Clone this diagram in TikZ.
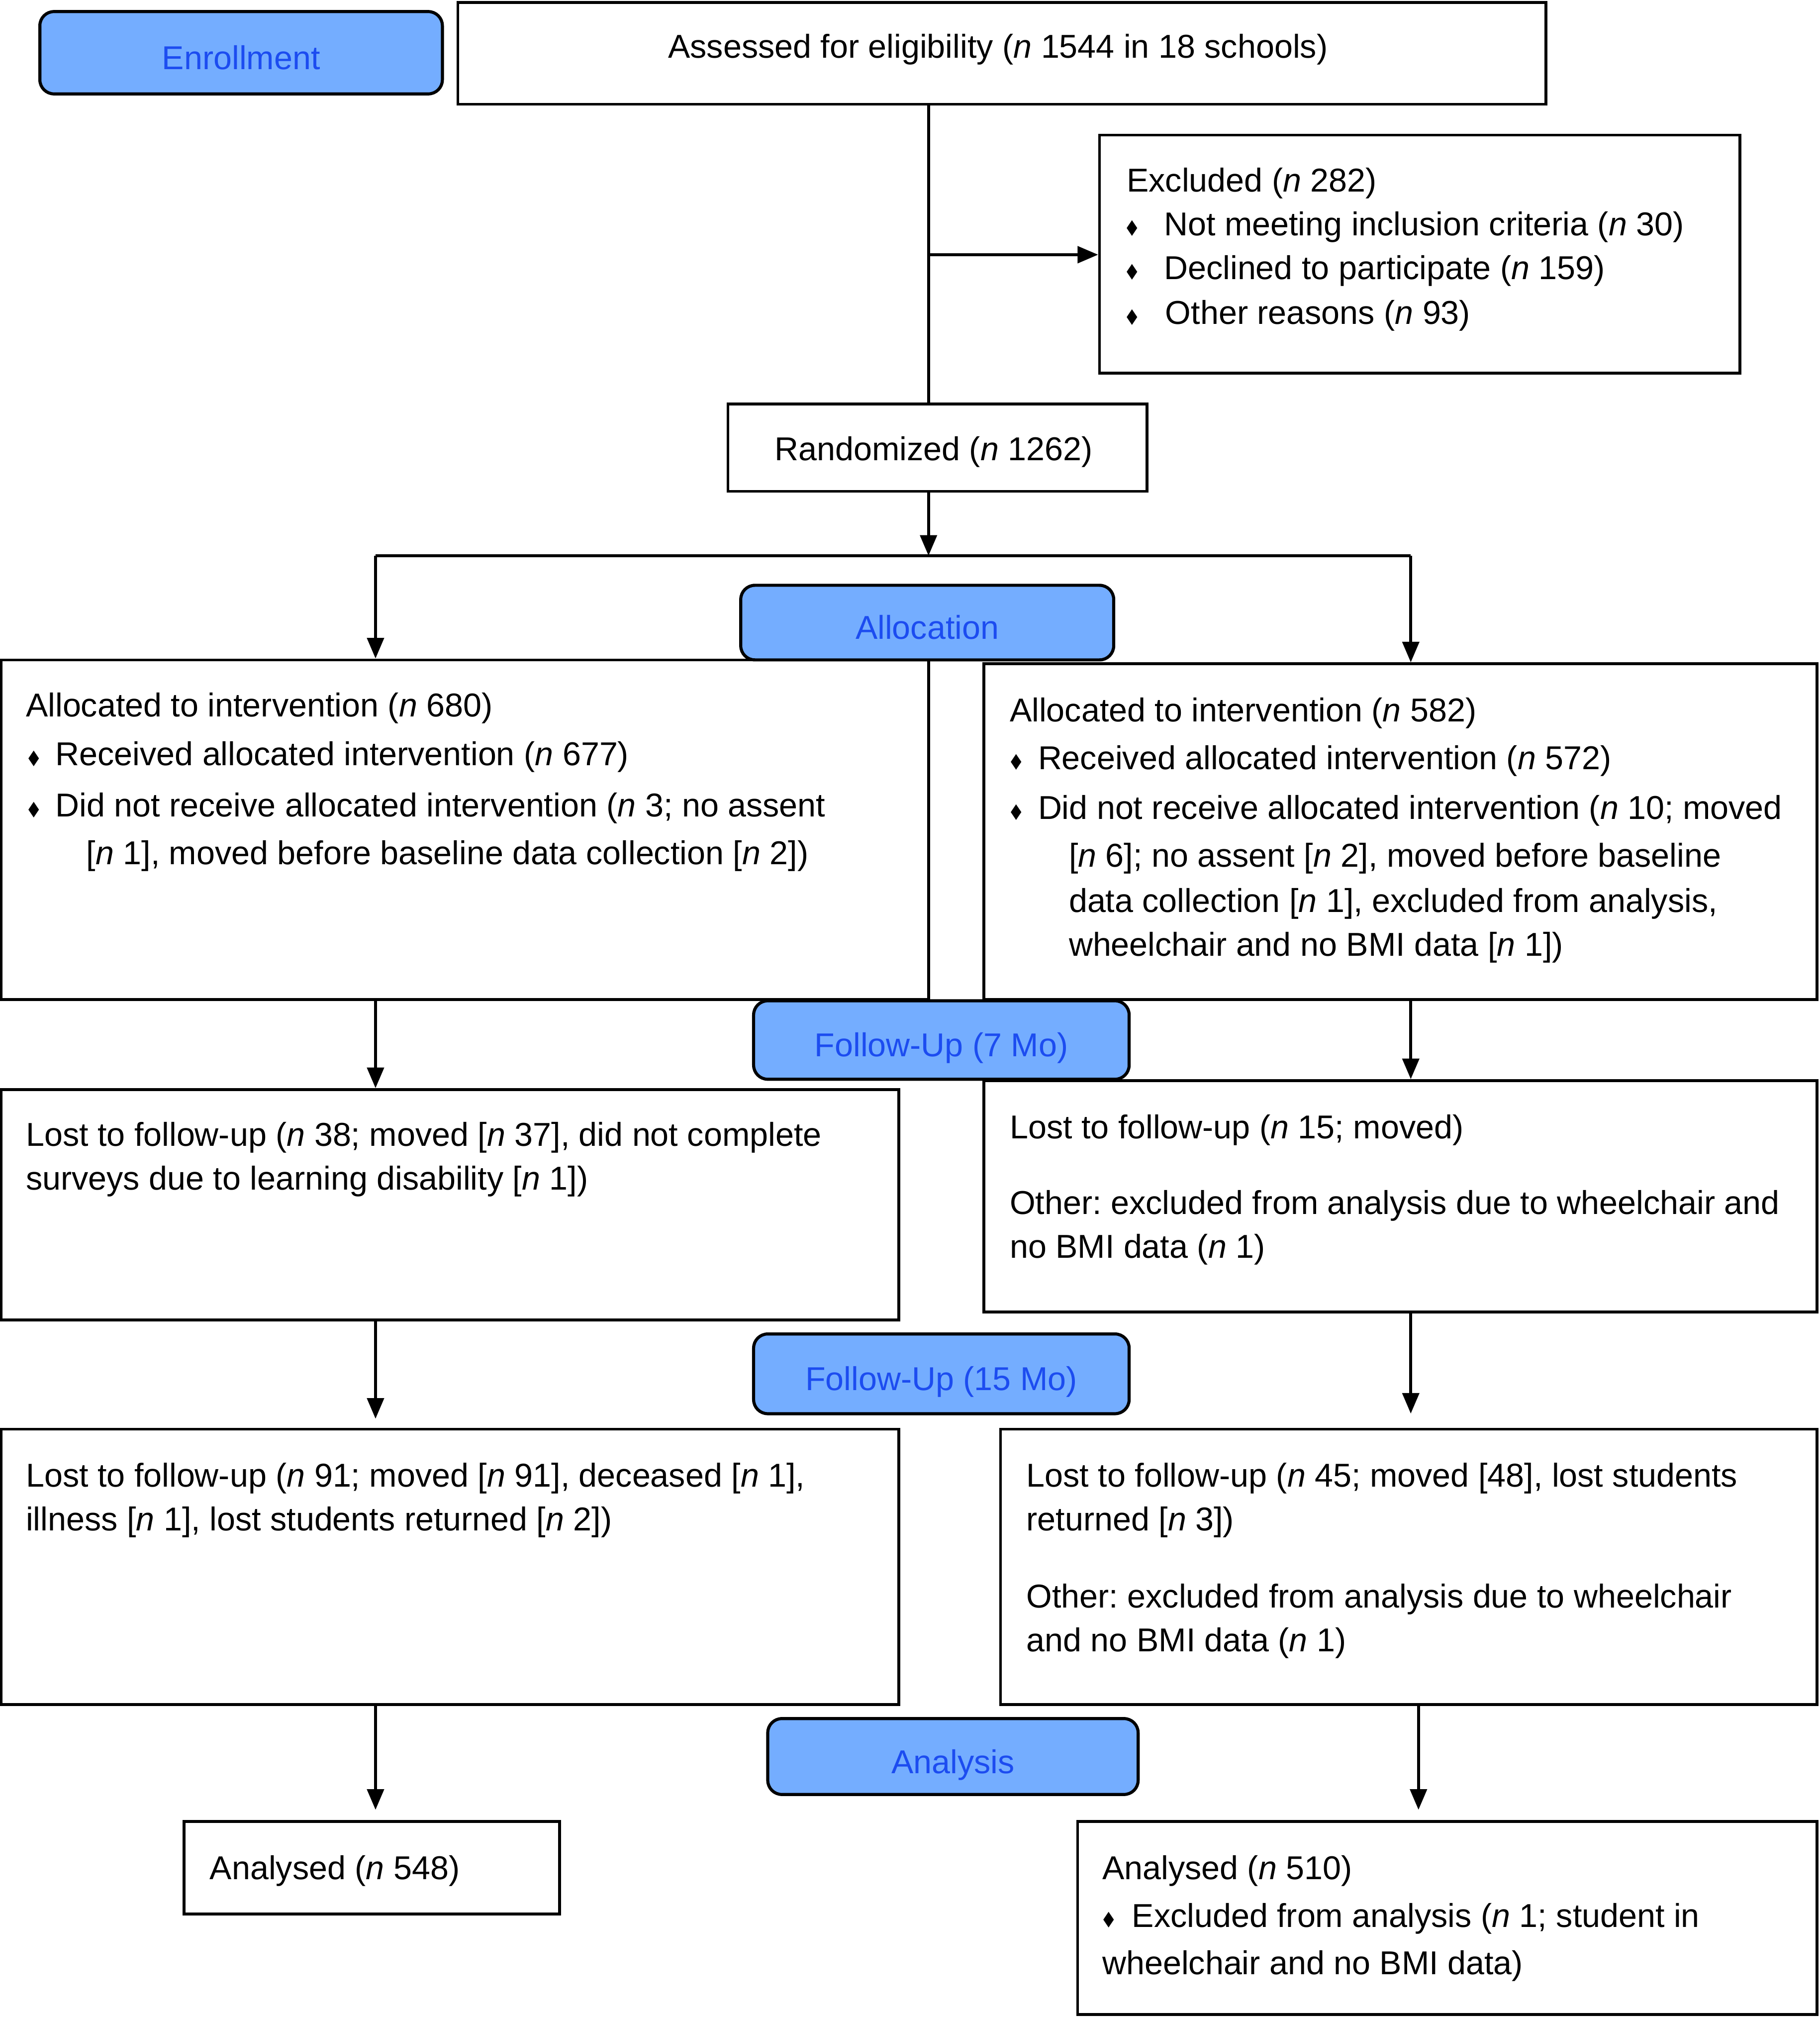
\documentclass[tikz,border=0pt]{standalone}
\usepackage{fontspec}
\setmainfont{Liberation Sans}
\newfontfamily\dejavu{DejaVu Sans}
\usetikzlibrary{arrows.meta,calc}
\definecolor{phasefill}{RGB}{116,173,255}
\definecolor{phasetext}{RGB}{28,76,240}
\newcommand\bul{\raisebox{0.05em}{\scalebox{0.42}[0.62]{\dejavu ◆}}}
\newcommand\bl[1]{\makebox[#1pt][l]{\bul}}
\newcommand\nn{\textit{n}}
\frenchspacing
\begin{document}
\begin{tikzpicture}[x=1pt,y=-1pt,
  every node/.style={font=\fontsize{25.7}{30}\selectfont},
  box/.style={draw, line width=2.2pt, rectangle, inner sep=0pt},
  phase/.style={draw, line width=2.4pt, rounded corners=11pt, fill=phasefill, text=phasetext, inner sep=0pt, text height=26pt, text depth=0pt},
  txt/.style={anchor=base west, inner sep=0pt},
  ctxt/.style={anchor=base, inner sep=0pt},
  ln/.style={line width=2.2pt},
  arr/.style={line width=2.2pt, -{Triangle[length=16pt,width=13pt]}}]
\useasboundingbox (0,0) rectangle (1415,1568);
% boxes
\node[box, minimum width=846pt, minimum height=79pt] (assess) at (779,41.5) {};
\node[box, minimum width=498pt, minimum height=185pt] (excl) at (1104,197.5) {};
\node[box, minimum width=326pt, minimum height=68pt] (rand) at (729,348) {};
\node[box, minimum width=721pt, minimum height=264pt] (allocL) at (361.5,645) {};
\node[box, minimum width=648pt, minimum height=261pt] (allocR) at (1089,646.5) {};
\node[box, minimum width=698pt, minimum height=179pt] (fuSL) at (350,936.5) {};
\node[box, minimum width=648pt, minimum height=180pt] (fuSR) at (1089,930) {};
\node[box, minimum width=698pt, minimum height=214pt] (fuFL) at (350,1218) {};
\node[box, minimum width=635pt, minimum height=214pt] (fuFR) at (1095.5,1218) {};
\node[box, minimum width=292pt, minimum height=72pt] (anL) at (289,1452) {};
\node[box, minimum width=575pt, minimum height=150pt] (anR) at (1125.5,1491) {};
% phase labels
\node[phase, minimum width=313pt, minimum height=64pt] (enroll) at (187.5,41) {Enrollment};
\node[phase, minimum width=290pt, minimum height=58pt] (alloc) at (721,484) {Allocation};
\node[phase, minimum width=292pt, minimum height=61pt] (fuS) at (732,808.5) {Follow-Up (7 Mo)};
\node[phase, minimum width=292pt, minimum height=62pt] (fuF) at (732,1068) {Follow-Up (15 Mo)};
\node[phase, minimum width=288pt, minimum height=59pt] (anal) at (741,1365.5) {Analysis};
% connectors
\coordinate (trunk) at (722,198);
\coordinate (junc) at (722,432);
\coordinate (brL) at (292,432);
\coordinate (brR) at (1097,432);
\coordinate (colR) at (1103,1325);
\draw[ln] (assess.south -| trunk) -- (rand.north -| trunk);
\draw[arr] (trunk) -- (trunk -| excl.west);
\draw[arr] (rand.south -| junc) -- (junc);
\draw[ln] (brL) -- (brR);
\draw[arr] (brL) -- (brL |- allocL.north);
\draw[arr] (brR) -- (brR |- allocR.north);
\draw[arr] (allocL.south -| brL) -- (fuSL.north -| brL);
\draw[arr] (allocR.south -| brR) -- (fuSR.north -| brR);
\draw[arr] (fuSL.south -| brL) -- ($(fuFL.north -| brL)+(0,-7)$);
\draw[arr] (fuSR.south -| brR) -- ($(fuFR.north -| brR)+(0,-11)$);
\draw[arr] (fuFL.south -| brL) -- ($(anL.north -| brL)+(0,-8)$);
\draw[arr] (colR) -- ($(anR.north -| colR)+(0,-8)$);
% texts
\node[ctxt] (tA) at (776,45) {Assessed for eligibility (\nn{} 1544 in 18 schools)};
\node[txt] (tE1) at (876,149) {Excluded (\nn{} 282)};
\node[txt] (tE2) at (876,183) {\bl{29}Not meeting inclusion criteria (\nn{} 30)};
\node[txt] (tE3) at (876,217) {\bl{29}Declined to participate (\nn{} 159)};
\node[txt] (tE4) at (876,252) {\bl{30}Other reasons (\nn{} 93)};
\node[ctxt] (tR) at (726,358) {Randomized (\nn{} 1262)};
\node[txt] (tL1) at (20,557) {Allocated to intervention (\nn{} 680)};
\node[txt] (tL2) at (22,595) {\bl{21}Received allocated intervention (\nn{} 677)};
\node[txt] (tL3) at (22,635) {\bl{21}Did not receive allocated intervention (\nn{} 3; no assent};
\node[txt] (tL4) at (67,672) {[\nn{} 1], moved before baseline data collection [\nn{} 2])};
\node[txt] (tR1) at (785,561) {Allocated to intervention (\nn{} 582)};
\node[txt] (tR2) at (786,598) {\bl{21}Received allocated intervention (\nn{} 572)};
\node[txt] (tR3) at (786,637) {\bl{21}Did not receive allocated intervention (\nn{} 10; moved};
\node[txt] (tR4) at (831,674) {[\nn{} 6]; no assent [\nn{} 2], moved before baseline};
\node[txt] (tR5) at (831,709) {data collection [\nn{} 1], excluded from analysis,};
\node[txt] (tR6) at (831,743) {wheelchair and no BMI data [\nn{} 1])};
\node[txt] (tSL1) at (20,891) {Lost to follow-up (\nn{} 38; moved [\nn{} 37], did not complete};
\node[txt] (tSL2) at (20,925) {surveys due to learning disability [\nn{} 1])};
\node[txt] (tSR1) at (785,885) {Lost to follow-up (\nn{} 15; moved)};
\node[txt] (tSR2) at (785,944) {Other: excluded from analysis due to wheelchair and};
\node[txt] (tSR3) at (785,978) {no BMI data (\nn{} 1)};
\node[txt] (tFL1) at (20,1156) {Lost to follow-up (\nn{} 91; moved [\nn{} 91], deceased [\nn{} 1],};
\node[txt] (tFL2) at (20,1190) {illness [\nn{} 1], lost students returned [\nn{} 2])};
\node[txt] (tFR1) at (798,1156) {Lost to follow-up (\nn{} 45; moved [48], lost students};
\node[txt] (tFR2) at (798,1190) {returned [\nn{} 3])};
\node[txt] (tFR3) at (798,1250) {Other: excluded from analysis due to wheelchair};
\node[txt] (tFR4) at (798,1284) {and no BMI data (\nn{} 1)};
\node[txt] (tAL) at (163,1461) {Analysed (\nn{} 548)};
\node[txt] (tAR1) at (857,1461) {Analysed (\nn{} 510)};
\node[txt] (tAR2) at (858,1498) {\bl{22}Excluded from analysis (\nn{} 1; student in};
\node[txt] (tAR3) at (857,1535) {wheelchair and no BMI data)};
\end{tikzpicture}
\end{document}
